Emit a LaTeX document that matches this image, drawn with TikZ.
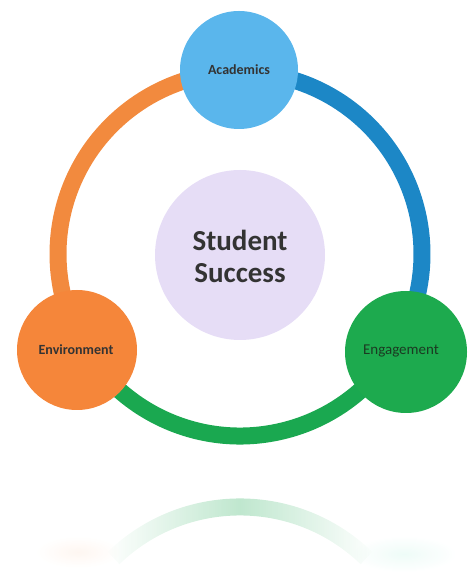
\documentclass[tikz,border=0pt]{standalone}
\usepackage{fontspec}
\usetikzlibrary{fadings}
\setmainfont{Carlito}
\definecolor{acad}{HTML}{5AB6EC}
\definecolor{bluearc}{HTML}{1C87C6}
\definecolor{orangearc}{HTML}{F28A3E}
\definecolor{envi}{HTML}{F5863A}
\definecolor{greenarc}{HTML}{1AA850}
\definecolor{enga}{HTML}{1DAA4E}
\definecolor{centre}{HTML}{E6DDF6}
\definecolor{txt}{HTML}{333333}
\definecolor{engtxt}{HTML}{1B3A22}
\tikzfading[name=arcfade, left color=transparent!100, right color=transparent!100, middle color=transparent!0]
\tikzfading[name=blobfade, inner color=transparent!30, outer color=transparent!100]
\tikzset{
  ringarc/.style={line width=17pt},
  ball/.style={circle, inner sep=0pt, draw=none},
  smalllabel/.style={font=\fontsize{14}{16}\selectfont\bfseries, text=txt},
}
\begin{document}
\begin{tikzpicture}[x=1pt,y=1pt]
\useasboundingbox (0,0) rectangle (473,583);
\coordinate (ring) at (240,329);
% ring arcs
\draw[ringarc, orangearc] (ring) ++(90:182) arc[start angle=90, end angle=195, radius=182];
\draw[ringarc, bluearc] (ring) ++(90:182) arc[start angle=90, end angle=-15, radius=182];
\draw[ringarc, greenarc] (ring) ++(195:182) arc[start angle=195, end angle=345, radius=182];
% reflection
\coordinate (refl) at (240,-106);
\draw[ringarc, greenarc, opacity=0.28, path fading=arcfade, fit fading=true] (refl) ++(46:182) arc[start angle=46, end angle=134, radius=182];
\fill[envi, opacity=0.10, path fading=blobfade, fit fading=true] (78,31) ellipse[x radius=42, y radius=16];
\fill[enga!60!cyan, opacity=0.10, path fading=blobfade, fit fading=true] (404,29) ellipse[x radius=52, y radius=18];
% circles
\node[ball, fill=centre, minimum size=170pt] (center) at (240,328) {};
\node[ball, fill=acad, minimum size=118pt] (acad) at (239,513) {};
\node[ball, fill=envi, minimum size=120pt] (envi) at (77,233) {};
\node[ball, fill=enga, minimum size=122pt] (enga) at (406,231) {};
% labels
\node[font=\fontsize{29}{32}\selectfont\bfseries, text=txt, align=center] (success) at (240,327) {Student\\Success};
\node[smalllabel] (acadlbl) at (239,513) {Academics};
\node[smalllabel] (envilbl) at (76,233) {Environment};
\node[font=\fontsize{15}{17}\selectfont, text=engtxt] (engalbl) at (401,232) {Engagement};
\end{tikzpicture}
\end{document}
